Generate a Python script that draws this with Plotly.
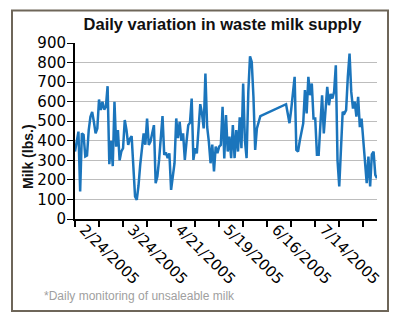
import pandas as pd
import plotly.graph_objects as go

# Daily waste milk (lbs.), one value per day starting 2/24/2005.
# None marks days without a reading; the line is drawn straight across them.
start_date = "2005-02-24"
milk_lbs = [
    345, 404, 447, 141, 438, 430, 320, 325, 455, 523,
    548, 497, 438, 463, 611, 557, 599, 560, 574, 679,
    280, 400, 270, 599, 370, 455, 300, 345, 362, 506,
    455, 379, 410, 424, 268, 115, 98, 170, 277, 370,
    438, 380, 514, 379, 396, 438, 480, 183, 217, 302,
    421, 526, 328, 340, 311, 336, 149, 217, 285, 514,
    413, 497, 400, 438, 302, 396, 480, 492, 616, 302,
    362, 336, 455, 587, 540, 463, 744, 472, 396, 285,
    380, 243, 370, 336, 370, 379, 574, 310, 531, 345,
    421, 311, 480, 311, 455, 345, 520, 362, 693, 404,
    311, 650, 832, 803, 625, 353, 463, 500, 526,
    None, None, None, None, None, None, None,
    None, None, None, None, None, None, None,
    587, 540, 490, 560, 642, 727, 353, 345, 400, 455,
    489, 659, 540, 727, 633, 693, 514, 514, 328, 328,
    523, 633, 438, 557, 676, 582, 640, 616, 650, 786,
    300, 166, 370, 548, 540, 557, 727, 846, 650, 565,
    600, 523, 625, 470, 514, 404, 311, 183, 319, 166,
    330, 345, 226, 209,
]
y_ticks = list(range(0, 901, 100))
tick_every_days = 14
last_tick_date = "2005-08-11"

dates = pd.date_range(start_date, periods=len(milk_lbs), freq="D")
tick_dates = pd.date_range(start_date, last_tick_date, freq=f"{tick_every_days}D")
tick_text = [f"{d.month}/{d.day}/{d.year}" if i % 2 == 0 else ""
             for i, d in enumerate(tick_dates)]

W, H = 400, 322
L, R, T, B = 75, 377, 43, 219  # plot area in pixels


def px(x):
    return (x - L) / (R - L)


def py(y):
    return (B - y) / (B - T)


fig = go.Figure()
fig.add_trace(go.Scatter(
    x=dates, y=milk_lbs, mode="lines", connectgaps=True,
    line=dict(color="#1b75bc", width=2.5),
    hoverinfo="x+y", showlegend=False,
))

fig.update_layout(
    width=W, height=H,
    margin=dict(l=L, r=W - R, t=T, b=H - B, pad=0),
    paper_bgcolor="white", plot_bgcolor="white",
    title=dict(
        text="<b>Daily variation in waste milk supply</b>",
        x=222.5 / W, xanchor="center", y=1 - 24 / H, yanchor="middle",
        xref="container", yref="container",
        font=dict(family="Liberation Sans", size=16.5, color="#111111"),
    ),
    xaxis=dict(
        type="date",
        range=[dates[0], dates[-1]],
        tickmode="array", tickvals=tick_dates, ticktext=tick_text,
        tickangle=45,
        ticks="outside", ticklen=6, tickwidth=2, tickcolor="black",
        ticklabelshift=9, ticklabelstandoff=-12,
        showline=True, linecolor="black", linewidth=2,
        showgrid=False, zeroline=False,
        tickfont=dict(family="DejaVu Sans", size=15, color="black"),
    ),
    yaxis=dict(
        range=[0, 900], tickmode="array", tickvals=y_ticks,
        ticks="outside", ticklen=6, tickwidth=1, tickcolor="black",
        ticklabelstandoff=-2,
        showline=True, linecolor="black", linewidth=2,
        showgrid=True, gridcolor="#bdbdbd", gridwidth=1.2,
        zeroline=False,
        tickfont=dict(family="DejaVu Sans", size=15, color="black"),
    ),
    annotations=[
        dict(text="<b>Milk (lbs.)</b>", textangle=-90,
             x=px(28), y=py(157), xref="paper", yref="paper",
             xanchor="center", yanchor="middle", showarrow=False,
             font=dict(family="Liberation Sans", size=14, color="#111111")),
        dict(text="*Daily monitoring of unsaleable milk",
             x=px(42), y=py(296), xref="paper", yref="paper",
             xanchor="left", yanchor="middle", showarrow=False,
             font=dict(family="Liberation Sans", size=12, color="#a0a0a0")),
    ],
    shapes=[
        dict(type="rect", xref="paper", yref="paper",
             x0=px(12), x1=px(388), y0=py(311), y1=py(10.5),
             line=dict(color="#6e6659", width=2), fillcolor="rgba(0,0,0,0)",
             layer="below"),
    ],
)

fig.write_html("out.html")
